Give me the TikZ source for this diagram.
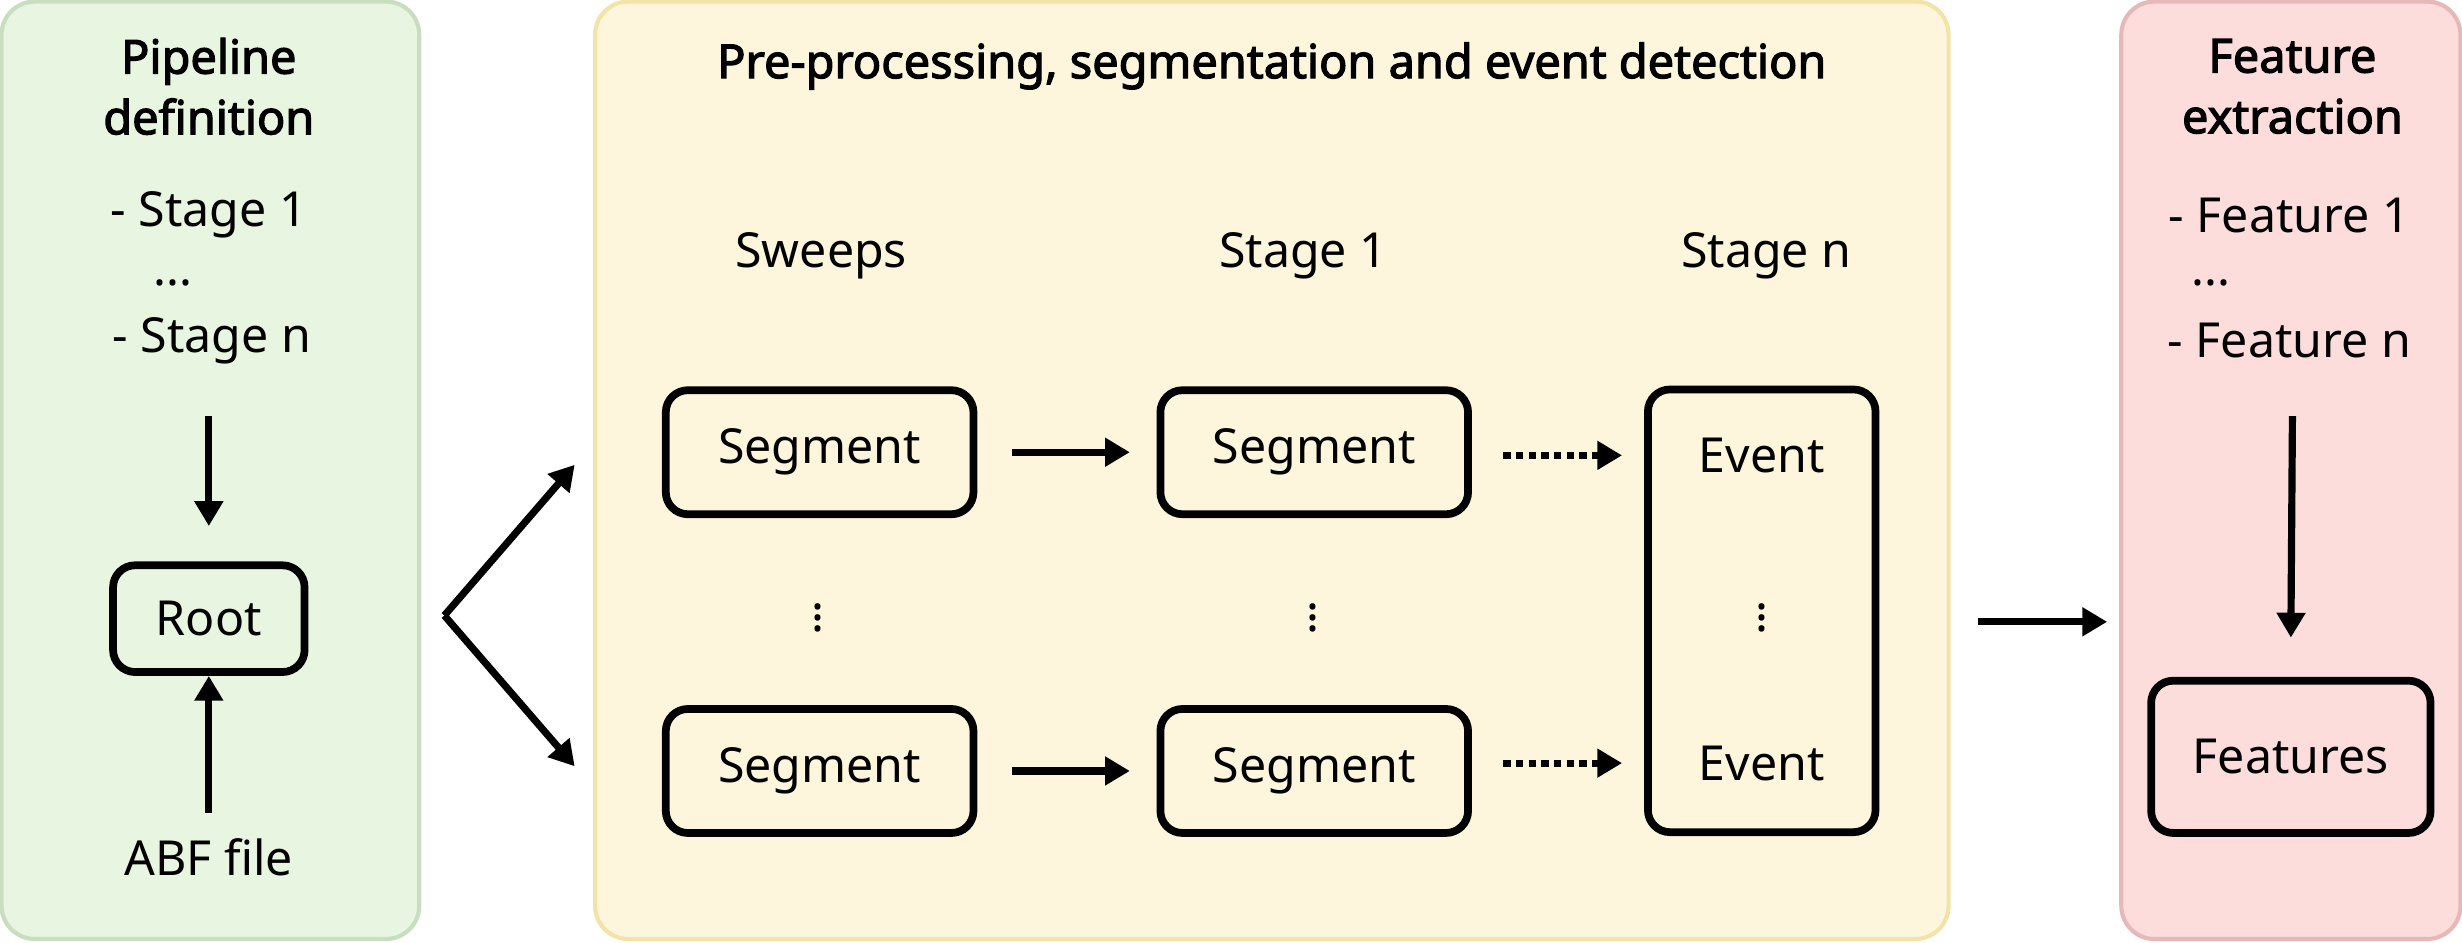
\documentclass[tikz,border=0pt]{standalone}
\usepackage{fontspec}
\setmainfont{Noto Sans}[AutoFakeBold=2.5]
\usetikzlibrary{arrows.meta}
\definecolor{gfill}{HTML}{E8F5E0}\definecolor{gline}{HTML}{C9DDC0}
\definecolor{yfill}{HTML}{FDF6DC}\definecolor{yline}{HTML}{F2E3A8}
\definecolor{pfill}{HTML}{FDDCDC}\definecolor{pline}{HTML}{E6B8B8}
\begin{document}
\begin{tikzpicture}[x=0.02cm,y=-0.02cm,
 panel/.style={rounded corners=12pt,line width=1.5pt},
 box/.style={draw,line width=2.8pt,rounded corners=8pt,inner sep=0pt},
 txt/.style={font=\fontsize{17.5}{21}\selectfont,align=center},
 ttl/.style={font=\fontsize{17}{22}\selectfont\bfseries,align=center},
 arr/.style={line width=2.6pt,-{Triangle[length=9pt,width=10pt]}}]
\useasboundingbox (0,0) rectangle (1568,600);
\draw[panel,fill=gfill,draw=gline] (1,1) rectangle (267,598);
\draw[panel,fill=yfill,draw=yline] (379,1) rectangle (1241,598);
\draw[panel,fill=pfill,draw=pline] (1351,1) rectangle (1567,598);
\node[ttl] (t1) at (133,55) {Pipeline\\definition};
\node[ttl] (t2) at (810,42) {Pre-processing, segmentation and event detection};
\node[ttl] (t3) at (1460,55) {Feature\\extraction};
\node[txt] (s1) at (133,137) {- Stage 1};
\node[txt] (sd) at (110,180) {...};
\node[txt] (sn) at (135,217) {- Stage n};
\coordinate (ra) at (133,265); \coordinate (rb) at (133,335);
\draw[arr] (ra) -- (rb);
\node[box,txt,minimum width=2.44cm,minimum height=1.36cm] (root) at (133,394) {Root};
\node[txt] (abf) at (133,546) {ABF file};
\draw[arr] (abf.north) ++(0,-10) -- (root.south) ;
\coordinate (v) at (283,392); \coordinate (v1) at (366,296); \coordinate (v2) at (366,488);
\draw[arr] (v) -- (v1); \draw[arr] (v) -- (v2);
\node[txt] (sw) at (523,163) {Sweeps};
\node[txt] (st1) at (830,163) {Stage 1};
\node[txt] (stn) at (1125,163) {Stage n};
\tikzset{seg/.style={box,txt,minimum width=3.92cm,minimum height=1.58cm}}
\node[seg] (a1) at (522,288) {Segment};
\node[seg] (b1) at (837,288) {Segment};
\node[seg] (a2) at (522,491) {Segment};
\node[seg] (b2) at (837,491) {Segment};
\node[box,minimum width=2.9cm,minimum height=5.64cm] (ev) at (1122,389) {};
\node[txt] (e1) at (1122,290) {Event};
\node[txt] (e2) at (1122,486) {Event};
\node[txt] at (521,388) {$\vdots$};
\node[txt] at (836,388) {$\vdots$};
\node[txt] at (1122,388) {$\vdots$};
\draw[arr] ([xshift=0.44cm]a1.east) -- ([xshift=-0.34cm]b1.west);
\draw[arr] ([xshift=0.44cm]a2.east) -- ([xshift=-0.34cm]b2.west);
\draw[arr,dotted] ([xshift=0.4cm]b1.east|-e1) -- ([xshift=-0.28cm]ev.west|-e1);
\draw[arr,dotted] ([xshift=0.4cm]b2.east|-e2) -- ([xshift=-0.28cm]ev.west|-e2);
\coordinate (m1) at (1260,396); \coordinate (m2) at (1342,396);
\draw[arr] (m1) -- (m2);
\node[txt] (f1) at (1458,137) {- Feature 1};
\node[txt] (fd) at (1408,180) {...};
\node[txt] (fn) at (1458,217) {- Feature n};
\node[box,txt,minimum width=3.56cm,minimum height=1.94cm] (feat) at (1459,482) {Features};
\coordinate (fa) at (1460,265);
\draw[arr] (fa) -- ([yshift=0.5cm]feat.north);
\end{tikzpicture}
\end{document}
